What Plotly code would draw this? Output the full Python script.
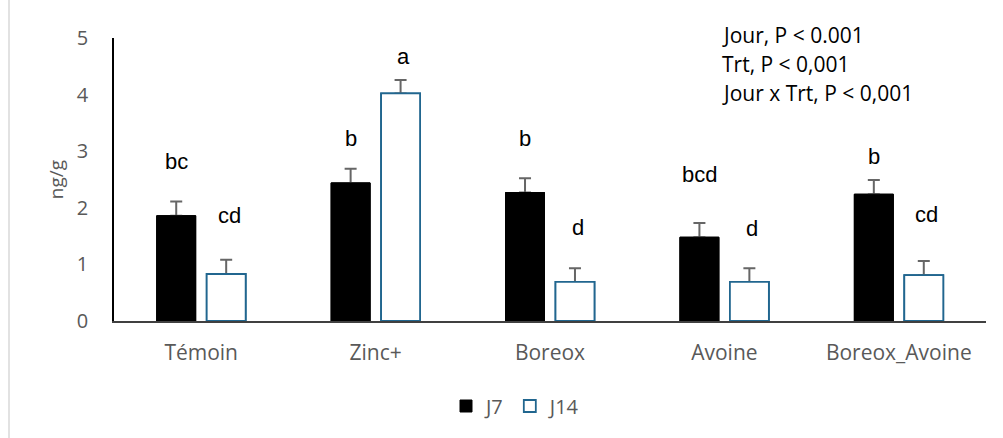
import plotly.graph_objects as go

categories = ["Témoin", "Zinc+", "Boreox", "Avoine", "Boreox_Avoine"]
j7_values = [1.86, 2.44, 2.27, 1.48, 2.24]
j7_errors = [0.25, 0.25, 0.25, 0.25, 0.25]
j14_values = [0.83, 4.02, 0.69, 0.69, 0.81]
j14_errors = [0.25, 0.24, 0.24, 0.24, 0.25]
j7_letters = ["bc", "b", "b", "bcd", "b"]
j7_letter_y = [2.81, 3.23, 3.22, 2.58, 2.90]
j14_letters = ["cd", "a", "d", "d", "cd"]
j14_letter_y = [1.86, 4.68, 1.66, 1.63, 1.88]
stats_lines = ["Jour, P < 0.001", "Trt, P < 0,001", "Jour x Trt, P < 0,001"]
y_ticks = [0, 1, 2, 3, 4, 5]

GRAY = "#595959"
BLUE = "#21668F"
ERR = "#666666"

J7_MARKER = dict(color="black", line=dict(color="black", width=1))
J14_MARKER = dict(color="white", line=dict(color=BLUE, width=1.8))

fig = go.Figure()
fig.add_trace(go.Bar(
    name="J7", x=categories, y=j7_values, offsetgroup="J7", marker=J7_MARKER,
    error_y=dict(type="data", array=j7_errors, symmetric=False, arrayminus=[0]*5,
                 color=ERR, thickness=2, width=6),
))
fig.add_trace(go.Bar(
    name="J14", x=categories, y=j14_values, offsetgroup="J14", marker=J14_MARKER,
    error_y=dict(type="data", array=j14_errors, symmetric=False, arrayminus=[0]*5,
                 color=ERR, thickness=2, width=6),
))
# redraw bars on top so the lower error-bar caps are hidden (only upper whiskers remain)
fig.add_trace(go.Bar(name="J7", x=categories, y=j7_values, offsetgroup="J7",
                     marker=J7_MARKER, showlegend=False, hoverinfo="skip"))
fig.add_trace(go.Bar(name="J14", x=categories, y=j14_values, offsetgroup="J14",
                     marker=J14_MARKER, showlegend=False, hoverinfo="skip"))

LETTER_FONT = dict(family="Liberation Sans", size=22, color="black")
annotations = []
for cat, txt, yv in zip(categories, j7_letters, j7_letter_y):
    annotations.append(dict(x=cat, y=yv, text=txt, showarrow=False, xshift=-25,
                            yanchor="middle", font=LETTER_FONT))
for cat, txt, yv in zip(categories, j14_letters, j14_letter_y):
    annotations.append(dict(x=cat, y=yv, text=txt, showarrow=False, xshift=28,
                            yanchor="middle", font=LETTER_FONT))

# plot area: x 114..986 px, y 38..321 px
L, R, T, B = 114, 986, 38, 321

def px(p):
    return (p - L) / float(R - L)

def py(p):
    return (B - p) / float(B - T)

for i, line in enumerate(stats_lines):
    annotations.append(dict(xref="paper", yref="paper", x=px(720), y=py(35 + 29 * i),
                            text=line, showarrow=False, xanchor="left", yanchor="middle",
                            font=dict(family="Open Sans", size=21, color="black")))

fig.update_layout(
    width=1003, height=438,
    margin=dict(l=L, r=1003 - R, t=T, b=438 - B),
    paper_bgcolor="white", plot_bgcolor="white",
    barmode="group", bargap=0.427, bargroupgap=0.22,
    showlegend=True,
    legend=dict(orientation="h", x=px(516), xanchor="center", y=py(406), yanchor="middle",
                font=dict(family="Open Sans", size=20, color=GRAY), itemwidth=30,
                traceorder="normal"),
    annotations=annotations,
    shapes=[dict(type="line", xref="paper", yref="paper",
                 x0=px(9), x1=px(9), y0=py(0), y1=py(438),
                 line=dict(color="#d9d9d9", width=1.5))],
    xaxis=dict(showline=True, linecolor="#404040", linewidth=1.5, showgrid=False,
               ticks="", tickfont=dict(family="Open Sans", size=21, color=GRAY),
               ticklabelstandoff=12, automargin=False),
    yaxis=dict(range=[0, 5], tickvals=y_ticks, showline=True, linecolor="black", linewidth=1.5,
               showgrid=False, zeroline=False, ticks="", automargin=False,
               tickfont=dict(family="Open Sans", size=20, color=GRAY), ticklabelstandoff=20,
               title=dict(text="ng/g", font=dict(family="Open Sans", size=19, color=GRAY), standoff=8)),
)

fig.write_html("out.html", config={"displayModeBar": False},
               post_script="document.body.style.margin='0';")
